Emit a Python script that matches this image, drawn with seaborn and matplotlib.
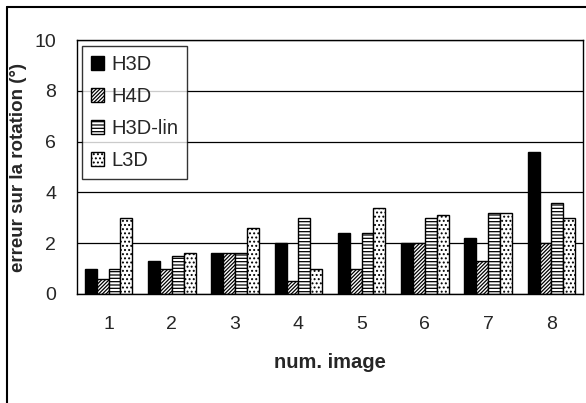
import pandas as pd
import matplotlib
matplotlib.use("Agg")
import matplotlib.pyplot as plt
from matplotlib.patches import Patch
from matplotlib.lines import Line2D
import seaborn as sns

images = ["1", "2", "3", "4", "5", "6", "7", "8"]
h3d = [1.0, 1.3, 1.6, 2.0, 2.4, 2.0, 2.2, 5.6]
h4d = [0.6, 1.0, 1.6, 0.5, 1.0, 2.0, 1.3, 2.0]
h3d_lin = [1.0, 1.5, 1.6, 3.0, 2.4, 3.0, 3.2, 3.6]
l3d = [3.0, 1.6, 2.6, 1.0, 3.4, 3.1, 3.2, 3.0]
methods = ["H3D", "H4D", "H3D-lin", "L3D"]

df = pd.DataFrame({
    "image": images * 4,
    "methode": sum([[m] * len(images) for m in methods], []),
    "erreur": h3d + h4d + h3d_lin + l3d,
})

sns.set_style("white")
plt.rcParams["font.family"] = ["Liberation Sans", "DejaVu Sans"]
plt.rcParams["hatch.linewidth"] = 0.9

couleurs = ["black", "white", "white", "white"]
hatches = [None, "/////////", "-----", "...."]
fs = 14.5

fig = plt.figure(figsize=(5.86, 4.03), dpi=100)
ax = fig.add_axes([0.1314, 0.2705, 0.8635, 0.630])

sns.barplot(data=df, x="image", y="erreur", hue="methode", hue_order=methods,
            palette=couleurs, width=0.75,
            edgecolor="black", linewidth=1.0, ax=ax, legend=False)

for cont, h in zip(ax.containers, hatches):
    for bar in cont:
        if h:
            bar.set_hatch(h)

ax.set_ylim(0, 10)
ax.set_xlim(-0.5, 7.5)
ax.set_yticks(range(0, 11, 2))
ax.yaxis.grid(True, color="black", linewidth=0.9)
ax.set_axisbelow(True)
# graduations entre les catégories (style Excel)
ax.set_xticks([i - 0.5 for i in range(9)])
ax.set_xticklabels([])
ax.set_xticks(range(8), minor=True)
ax.set_xticklabels(images, minor=True)
ax.tick_params(axis="x", which="major", direction="out", length=5, width=1, color="black")
ax.tick_params(axis="x", which="minor", length=0, pad=16, labelsize=14)
ax.tick_params(axis="y", direction="out", length=5, width=1, color="black",
               labelsize=14, pad=10)
for s in ax.spines.values():
    s.set_color("black")
    s.set_linewidth(1.0)

ax.set_xlabel("num. image", fontsize=fs, fontweight="bold", labelpad=14)
ax.set_ylabel("erreur sur la rotation (°)", fontsize=13.5, fontweight="bold", labelpad=5)

handles = [Patch(facecolor=c, edgecolor="black", hatch=h, label=m)
           for c, h, m in zip(couleurs, hatches, methods)]
leg = ax.legend(handles=handles, loc="upper left", bbox_to_anchor=(0.01, 0.976),
                fontsize=fs, frameon=True, fancybox=False, handlelength=0.65,
                handleheight=0.65, handletextpad=0.35, labelspacing=0.64,
                borderpad=0.45, borderaxespad=0)
leg.get_frame().set_edgecolor("black")
leg.get_frame().set_linewidth(1.0)

# cadre du graphique (bords gauche et haut visibles)
fig.add_artist(Line2D([7 / 586, 7 / 586], [0, 1 - 7 / 403], color="black", linewidth=1.5,
                      transform=fig.transFigure))
fig.add_artist(Line2D([7 / 586, 1], [1 - 7 / 403, 1 - 7 / 403], color="black", linewidth=1.5,
                      transform=fig.transFigure))

fig.savefig("out.png", dpi=100)
